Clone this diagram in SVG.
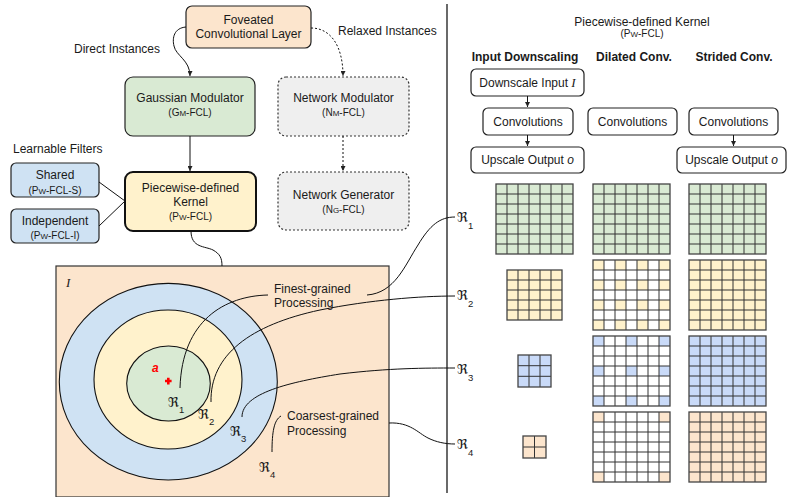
<svg xmlns="http://www.w3.org/2000/svg" width="787" height="497" viewBox="0 0 787 497">
<style>
text{font-family:"Liberation Sans",Arial,sans-serif;fill:#1a1a1a}
.t12{font-size:12px}
.t10{font-size:10px}
.sc{font-size:8px}
.mid{text-anchor:middle}
.hd{font-size:12px;font-weight:bold}
.box{stroke:#222;stroke-width:1.2}
.dot{stroke:#333;stroke-width:1.2;stroke-dasharray:2 2}
.ln{fill:none;stroke:#111;stroke-width:1}
.fr{font-family:"DejaVu Serif","DejaVu Sans",serif;font-size:13.5px}
.sub{font-family:"Liberation Sans",Arial,sans-serif;font-size:9.5px}
.gl{fill:none;stroke:#333;stroke-width:1}
.gb{fill:none;stroke:#444;stroke-width:1.3}
.green{fill:#d9ead3}.yellow{fill:#fff2cc}.blue{fill:#c9daf8}.orange{fill:#fce5cd}
</style>
<defs>
<marker id="ah" viewBox="0 0 6 6" refX="6" refY="3" markerWidth="5" markerHeight="5" orient="auto" markerUnits="userSpaceOnUse"><path d="M0,0L6,3L0,6z" fill="#222"/></marker>
<g id="lines7"><path class="gl" d="M11,0V70M22,0V70M33,0V70M44,0V70M55,0V70M66,0V70M0,10H77M0,20H77M0,30H77M0,40H77M0,50H77M0,60H77"/><rect class="gb" width="77" height="70"/></g>
<pattern id="pY2" patternUnits="userSpaceOnUse" width="22" height="20"><rect width="11" height="10" fill="#fff2cc"/></pattern>
<pattern id="pB3" patternUnits="userSpaceOnUse" width="33" height="30"><rect width="11" height="10" fill="#c9daf8"/></pattern>
<pattern id="pO6" patternUnits="userSpaceOnUse" width="66" height="60"><rect width="11" height="10" fill="#fce5cd"/></pattern>
</defs>
<rect width="787" height="497" fill="#fff"/>

<g id="separator"><line x1="447" y1="4" x2="447" y2="493" stroke="#444" stroke-width="1.6"/></g>

<g id="input-image">
<rect x="56" y="266" width="333" height="231" fill="#fce5cd" stroke="#333" stroke-width="1.2"/>
<text x="66" y="287" style="font-family:'Liberation Serif',serif;font-style:italic;font-size:13px">I</text>
<ellipse cx="168.3" cy="381.7" rx="109" ry="98.3" fill="#cfe2f3" stroke="#111" stroke-width="1.1"/>
<ellipse cx="168" cy="379.5" rx="74" ry="69.5" fill="#fff2cc" stroke="#111" stroke-width="1.1"/>
<ellipse cx="168.5" cy="383.5" rx="41.8" ry="37.5" fill="#d9ead3" stroke="#111" stroke-width="1.1"/>
<text x="152" y="372" style="fill:#ff0000;font-weight:bold;font-style:italic;font-size:12px">a</text>
<path d="M165,381H171.6M168.3,377.8V384.4" stroke="#ff0000" stroke-width="2.6"/>
<text x="168" y="407" class="fr">ℜ<tspan class="sub" x="179" y="413">1</tspan></text>
<text x="198" y="419" class="fr">ℜ<tspan class="sub" x="209" y="425">2</tspan></text>
<text x="230" y="436" class="fr">ℜ<tspan class="sub" x="241" y="442">3</tspan></text>
<text x="259" y="472" class="fr">ℜ<tspan class="sub" x="270" y="478">4</tspan></text>
<text x="274" y="293" class="t12">Finest-grained</text>
<text x="274" y="307" class="t12">Processing</text>
<text x="287" y="420" class="t12">Coarsest-grained</text>
<text x="287" y="435" class="t12">Processing</text>
</g>

<g id="foveated"><rect x="186" y="6" width="125" height="42" rx="6" class="box" fill="#fce5cd"/><text x="248.5" y="24" class="t12 mid">Foveated</text><text x="248.5" y="38" class="t12 mid">Convolutional Layer</text></g>
<g id="gaussian"><rect x="125" y="77" width="130" height="59" rx="8" class="box" fill="#d9ead3"/><text x="190" y="102" class="t12 mid">Gaussian Modulator</text><text x="190" y="116" class="t10 mid">(G<tspan class="sc">M</tspan>-FCL)</text></g>
<g id="net-modulator"><rect x="278" y="77" width="131" height="59" rx="8" class="dot" fill="#efefef"/><text x="343.5" y="102" class="t12 mid">Network Modulator</text><text x="343.5" y="116" class="t10 mid">(N<tspan class="sc">M</tspan>-FCL)</text></g>
<g id="net-generator"><rect x="278" y="172" width="131" height="58" rx="8" class="dot" fill="#efefef"/><text x="343.5" y="199" class="t12 mid">Network Generator</text><text x="343.5" y="213" class="t10 mid">(N<tspan class="sc">G</tspan>-FCL)</text></g>
<g id="piecewise"><rect x="125" y="172" width="131" height="59" rx="8" fill="#fff2cc" stroke="#111" stroke-width="2"/><text x="190.5" y="192" class="t12 mid">Piecewise-defined</text><text x="190.5" y="206" class="t12 mid">Kernel</text><text x="190.5" y="220" class="t10 mid">(P<tspan class="sc">W</tspan>-FCL)</text></g>
<g id="learnable-label"><text x="13" y="153" class="t12">Learnable Filters</text></g>
<g id="shared"><rect x="11" y="163" width="88" height="34" rx="5" class="box" fill="#cfe2f3"/><text x="55" y="179" class="t12 mid">Shared</text><text x="55" y="194" class="t10 mid">(P<tspan class="sc">W</tspan>-FCL-S)</text></g>
<g id="independent"><rect x="11" y="209" width="88" height="34" rx="5" class="box" fill="#cfe2f3"/><text x="55" y="225" class="t12 mid">Independent</text><text x="55" y="239" class="t10 mid">(P<tspan class="sc">W</tspan>-FCL-I)</text></g>

<g id="edge-labels">
<text x="74" y="53" class="t12">Direct Instances</text>
<text x="338" y="35" class="t12">Relaxed Instances</text>
</g>

<g id="right-header">
<text x="642" y="26" class="t12 mid">Piecewise-defined Kernel</text>
<text x="642" y="37" class="t10 mid">(P<tspan class="sc">W</tspan>-FCL)</text>
<text x="525" y="61" class="hd mid">Input Downscaling</text>
<text x="634" y="61" class="hd mid">Dilated Conv.</text>
<text x="734" y="61" class="hd mid">Strided Conv.</text>
</g>
<g id="downscale-input"><rect x="471" y="69" width="113" height="27" rx="5" class="box" fill="#fff"/><text x="527.5" y="87" class="t12 mid">Downscale Input <tspan style="font-family:'Liberation Serif',serif;font-style:italic;font-size:13px">I</tspan></text></g>
<g id="conv-1"><rect x="483" y="108" width="90" height="27" rx="5" class="box" fill="#fff"/><text x="528" y="126" class="t12 mid">Convolutions</text></g>
<g id="upscale-1"><rect x="471" y="147" width="113" height="26" rx="5" class="box" fill="#fff"/><text x="527.5" y="164" class="t12 mid">Upscale Output <tspan font-style="italic">o</tspan></text></g>
<g id="conv-2"><rect x="588" y="108" width="89" height="27" rx="5" class="box" fill="#fff"/><text x="632.5" y="126" class="t12 mid">Convolutions</text></g>
<g id="conv-3"><rect x="689" y="108" width="89" height="27" rx="5" class="box" fill="#fff"/><text x="733.5" y="126" class="t12 mid">Convolutions</text></g>
<g id="upscale-3"><rect x="677" y="147" width="109" height="26" rx="5" class="box" fill="#fff"/><text x="731.5" y="164" class="t12 mid">Upscale Output <tspan font-style="italic">o</tspan></text></g>

<g id="region-labels">
<text x="457" y="222" class="fr">ℜ<tspan class="sub" x="468" y="229">1</tspan></text>
<text x="457" y="300" class="fr">ℜ<tspan class="sub" x="468" y="307">2</tspan></text>
<text x="457" y="374" class="fr">ℜ<tspan class="sub" x="468" y="381">3</tspan></text>
<text x="457" y="449" class="fr">ℜ<tspan class="sub" x="468" y="456">4</tspan></text>
</g>

<g id="grids">
<g id="grid-in-r1" transform="translate(496,184)"><rect width="77" height="70" class="green"/><use href="#lines7"/></g>
<g id="grid-dil-r1" transform="translate(593,184)"><rect width="77" height="70" class="green"/><use href="#lines7"/></g>
<g id="grid-str-r1" transform="translate(689,184)"><rect width="77" height="70" class="green"/><use href="#lines7"/></g>
<g id="grid-in-r2" transform="translate(507,270)"><rect width="55" height="50" class="yellow"/><path class="gl" d="M11,0V50M22,0V50M33,0V50M44,0V50M0,10H55M0,20H55M0,30H55M0,40H55"/><rect class="gb" width="55" height="50"/></g>
<g id="grid-dil-r2" transform="translate(593,260)"><rect width="77" height="70" fill="#fff"/><rect width="77" height="70" fill="url(#pY2)"/><use href="#lines7"/></g>
<g id="grid-str-r2" transform="translate(689,260)"><rect width="77" height="70" class="yellow"/><use href="#lines7"/></g>
<g id="grid-in-r3" transform="translate(518,355)"><rect width="33" height="32" class="blue"/><path class="gl" d="M11,0V32M22,0V32M0,10.7H33M0,21.3H33"/><rect class="gb" width="33" height="32"/></g>
<g id="grid-dil-r3" transform="translate(593,336)"><rect width="77" height="70" fill="#fff"/><rect width="77" height="70" fill="url(#pB3)"/><use href="#lines7"/></g>
<g id="grid-str-r3" transform="translate(689,336)"><rect width="77" height="70" class="blue"/><use href="#lines7"/></g>
<g id="grid-in-r4" transform="translate(523,436)"><rect width="23" height="22" class="orange"/><path class="gl" d="M11.5,0V22M0,11H23"/><rect class="gb" width="23" height="22"/></g>
<g id="grid-dil-r4" transform="translate(593,412)"><rect width="77" height="70" fill="#fff"/><rect width="77" height="70" fill="url(#pO6)"/><use href="#lines7"/></g>
<g id="grid-str-r4" transform="translate(689,412)"><rect width="77" height="70" class="orange"/><use href="#lines7"/></g>
</g>

<g id="connectors">
<path class="ln" d="M186,27 C174,28 172,38 174,46 C176,56 190,60 190,76" marker-end="url(#ah)"/>
<path class="ln" d="M311,28 C330,28 343,45 343,76" stroke-dasharray="2 2" marker-end="url(#ah)"/>
<path class="ln" d="M190,136 V171" marker-end="url(#ah)"/>
<path class="ln" d="M343,136 V171" stroke-dasharray="2 2" marker-end="url(#ah)"/>
<path class="ln" d="M99,182 L125,201 M99,226 L125,201"/>
<path class="ln" d="M191,231 C191,248 205,246 213,250 C220,254 222,258 222,266"/>
<path class="ln" d="M527.5,96 V107" marker-end="url(#ah)"/>
<path class="ln" d="M527.5,135 V146" marker-end="url(#ah)"/>
<path class="ln" d="M733.5,135 V146" marker-end="url(#ah)"/>
<path class="ln" d="M268,295 C225,296 182,320 180,388"/>
<path class="ln" d="M367,295 C395,293 405,265 418,245 C430,225 440,217 455,217"/>
<path class="ln" d="M211,402 C210,355 250,325 320,310 C370,300 420,296 455,296"/>
<path class="ln" d="M242,417 C242,393 290,382 340,374 C390,368 425,368 455,368"/>
<path class="ln" d="M281,416 C274,420 272,432 272,452"/>
<path class="ln" d="M389,423 C410,422 418,433 428,438 C436,442 445,444 455,444"/>
</g>
</svg>
